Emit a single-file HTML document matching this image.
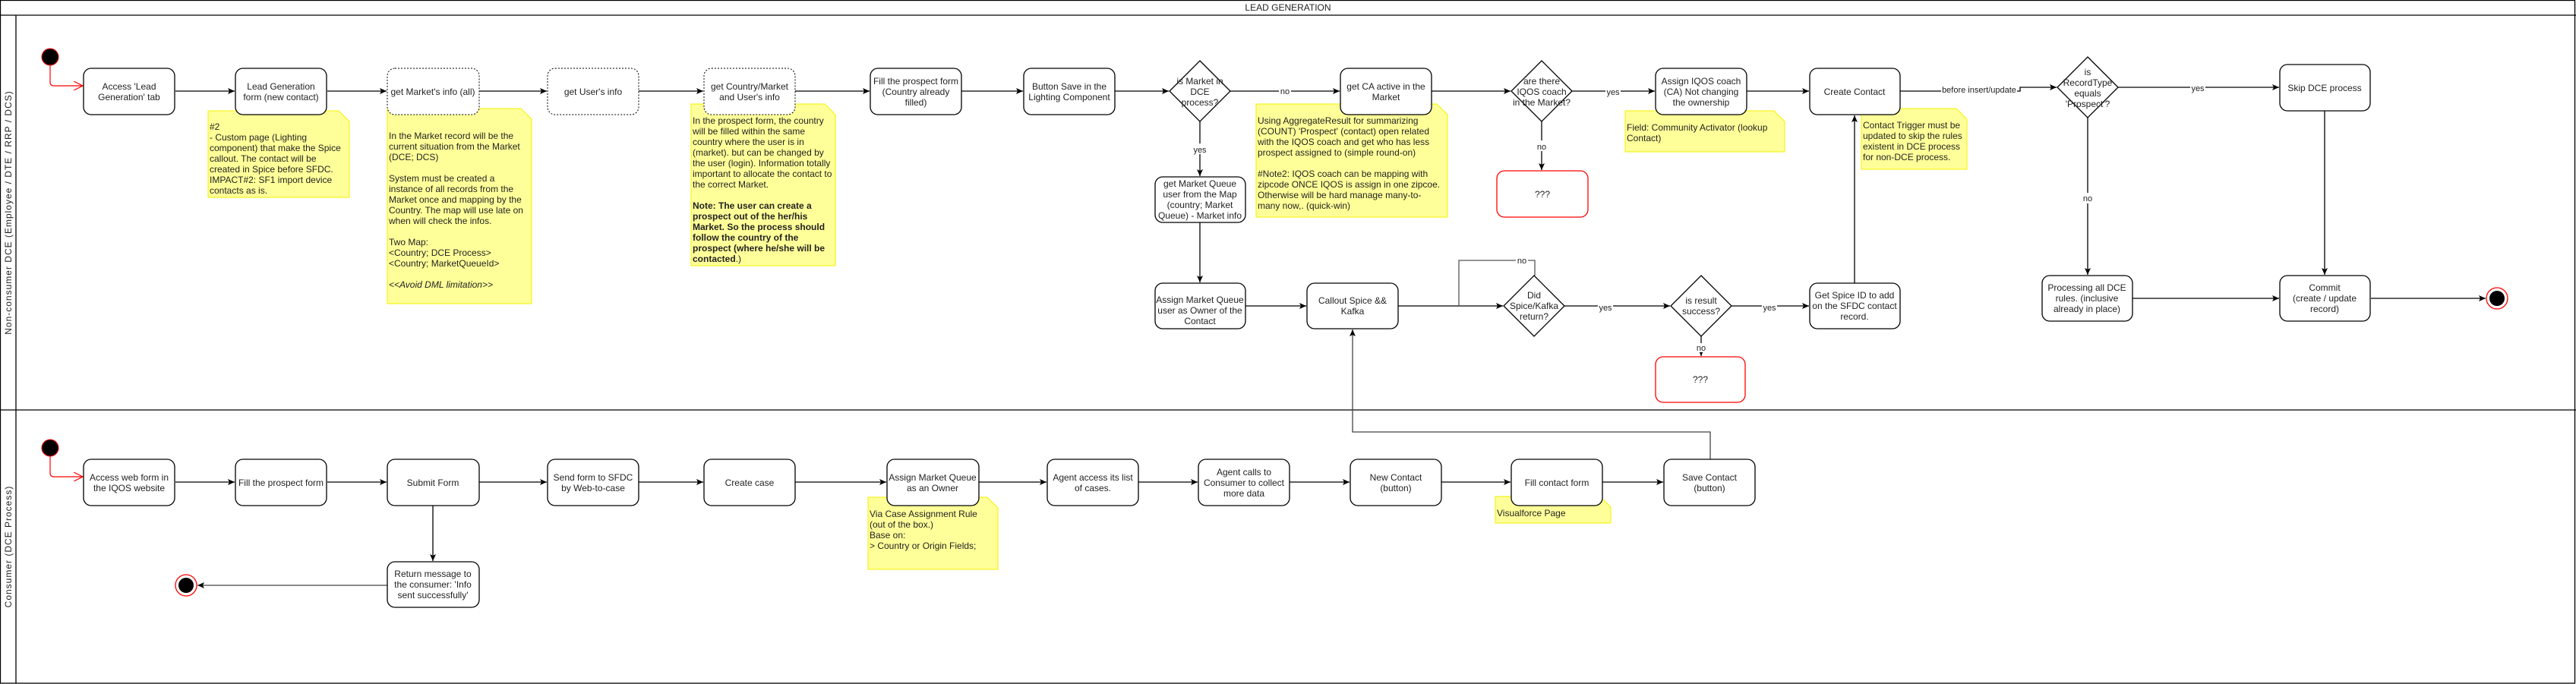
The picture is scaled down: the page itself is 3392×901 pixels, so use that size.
<!DOCTYPE html>
<html><head><meta charset="utf-8"><style>
html,body{margin:0;padding:0;background:#fff;}
svg{display:block;font-family:"Liberation Sans",Arial,sans-serif;}
.b{fill:#fff;stroke:#000;stroke-width:1.3;}
.d{fill:#fff;stroke:#000;stroke-width:1;stroke-dasharray:2,2;}
.r{fill:#fff;stroke:#f00;stroke-width:1.3;}
.n{fill:#ffff99;stroke:#f2f200;stroke-width:1;}
.t{font-size:12px;fill:#222;text-anchor:middle;}
.nt{font-size:12px;fill:#222;}
.l{stroke:#000;stroke-width:1.3;fill:none;marker-end:url(#a);}
.lb{font-size:11px;fill:#222;text-anchor:middle;}
</style></head><body>
<svg width="3392" height="901" viewBox="0 0 3392 901" xmlns="http://www.w3.org/2000/svg">
<defs>
<marker id="a" markerWidth="10" markerHeight="10" refX="9" refY="5" orient="auto" markerUnits="userSpaceOnUse"><path d="M0,1 L9,5 L0,9 L2,5 Z" fill="#000"/></marker>
<marker id="ra" markerWidth="14" markerHeight="12" refX="12" refY="6" orient="auto" markerUnits="userSpaceOnUse"><path d="M0,0 L12,6 L0,12" fill="none" stroke="#f00" stroke-width="1.2"/></marker>
</defs>
<!-- frame -->
<rect x="0.5" y="0.5" width="3390" height="899.5" fill="none" stroke="#000" stroke-width="1.3"/>
<line x1="0" y1="20" x2="3392" y2="20" stroke="#000" stroke-width="1.3"/>
<text x="1696" y="14" class="t" style="font-size:12px">LEAD GENERATION</text>
<line x1="0" y1="540" x2="3392" y2="540" stroke="#000" stroke-width="1.3"/>
<line x1="21" y1="20" x2="21" y2="900" stroke="#000" stroke-width="1.3"/>
<text transform="translate(15,280) rotate(-90)" class="t" style="font-size:12px;letter-spacing:1px">Non-consumer DCE (Employee / DTE / RRP / DCS)</text>
<text transform="translate(15,720) rotate(-90)" class="t" style="font-size:12px;letter-spacing:1px">Consumer (DCE Process)</text>

<!-- notes -->
<g>
<path class="n" d="M274,146 H446 L460,160 V260 H274 Z"/>
<text class="nt" x="276"><tspan x="276" y="171">#2</tspan><tspan x="276" dy="14">- Custom page (Lighting</tspan><tspan x="276" dy="14">component) that make the Spice</tspan><tspan x="276" dy="14">callout. The contact will be</tspan><tspan x="276" dy="14">created in Spice before SFDC.</tspan><tspan x="276" dy="14">IMPACT#2: SF1 import device</tspan><tspan x="276" dy="14">contacts as is.</tspan></text>

<path class="n" d="M510,143 H686 L700,157 V400 H510 Z"/>
<text class="nt"><tspan x="512" y="183">In the Market record will be the</tspan><tspan x="512" dy="14">current situation from the Market</tspan><tspan x="512" dy="14">(DCE; DCS)</tspan><tspan x="512" dy="28">System must be created a</tspan><tspan x="512" dy="14">instance of all records from the</tspan><tspan x="512" dy="14">Market once and mapping by the</tspan><tspan x="512" dy="14">Country. The map will use late on</tspan><tspan x="512" dy="14">when will check the infos.</tspan><tspan x="512" dy="28">Two Map:</tspan><tspan x="512" dy="14">&lt;Country; DCE Process&gt;</tspan><tspan x="512" dy="14">&lt;Country; MarketQueueId&gt;</tspan><tspan x="512" dy="28" font-style="italic">&lt;&lt;Avoid DML limitation&gt;&gt;</tspan></text>

<path class="n" d="M910,137 H1086 L1100,151 V350 H910 Z"/>
<text class="nt"><tspan x="912" y="163">In the prospect form, the country</tspan><tspan x="912" dy="14">will be filled within the same</tspan><tspan x="912" dy="14">country where the user is in</tspan><tspan x="912" dy="14">(market). but can be changed by</tspan><tspan x="912" dy="14">the user (login). Information totally</tspan><tspan x="912" dy="14">important to allocate the contact to</tspan><tspan x="912" dy="14">the correct Market.</tspan><tspan x="912" dy="28" font-weight="bold">Note: The user can create a</tspan><tspan x="912" dy="14" font-weight="bold">prospect out of the her/his</tspan><tspan x="912" dy="14" font-weight="bold">Market. So the process should</tspan><tspan x="912" dy="14" font-weight="bold">follow the country of the</tspan><tspan x="912" dy="14" font-weight="bold">prospect (where he/she will be</tspan><tspan x="912" dy="14"><tspan font-weight="bold">contacted</tspan>.)</tspan></text>

<path class="n" d="M1654,137 H1892 L1906,151 V286 H1654 Z"/>
<text class="nt"><tspan x="1656" y="163">Using AggregateResult for summarizing</tspan><tspan x="1656" dy="14">(COUNT) 'Prospect' (contact) open related</tspan><tspan x="1656" dy="14">with the IQOS coach and get who has less</tspan><tspan x="1656" dy="14">prospect assigned to (simple round-on)</tspan><tspan x="1656" dy="28">#Note2: IQOS coach can be mapping with</tspan><tspan x="1656" dy="14">zipcode ONCE IQOS is assign in one zipcoe.</tspan><tspan x="1656" dy="14">Otherwise will be hard manage many-to-</tspan><tspan x="1656" dy="14">many now,. (quick-win)</tspan></text>

<path class="n" d="M2140,146 H2336 L2350,160 V200 H2140 Z"/>
<text class="nt"><tspan x="2142" y="172">Field: Community Activator (lookup</tspan><tspan x="2142" dy="14">Contact)</tspan></text>

<path class="n" d="M2451,143 H2576 L2590,157 V223 H2451 Z"/>
<text class="nt"><tspan x="2453" y="169">Contact Trigger must be</tspan><tspan x="2453" dy="14">updated to skip the rules</tspan><tspan x="2453" dy="14">existent in DCE process</tspan><tspan x="2453" dy="14">for non-DCE process.</tspan></text>

<path class="n" d="M1143,655 H1300 L1314,669 V750 H1143 Z"/>
<text class="nt"><tspan x="1145" y="681">Via Case Assignment Rule</tspan><tspan x="1145" dy="14">(out of the box.)</tspan><tspan x="1145" dy="14">Base on:</tspan><tspan x="1145" dy="14">&gt; Country or Origin Fields;</tspan></text>

<path class="n" d="M1969,654 H2107 L2121,668 V689 H1969 Z"/>
<text class="nt"><tspan x="1971" y="680">Visualforce Page</tspan></text>
</g>

<!-- edges lane 1 -->
<path d="M66,86 V108 Q66,113 71,113 H109" fill="none" stroke="#f00" stroke-width="1.2" marker-end="url(#ra)"/>
<path class="l" d="M231,120 H309"/>
<path class="l" d="M431,120 H509"/>
<path class="l" d="M631,120 H720"/>
<path class="l" d="M841,120 H926"/>
<path class="l" d="M1047,120 H1145"/>
<path class="l" d="M1266,120 H1347"/>
<path class="l" d="M1468,120 H1539"/>
<path class="l" d="M1620,120 H1764"/>
<path class="l" d="M1885,120 H1989"/>
<path class="l" d="M2070,120 H2179"/>
<path class="l" d="M2300,120 H2382"/>
<path class="l" d="M2502,120 H2660 V115 H2708"/>
<path class="l" d="M2789,115 H3001"/>
<path class="l" d="M2749,155 V362"/>
<path class="l" d="M3061,146 V362"/>
<path class="l" d="M2808,393 H3001"/>
<path class="l" d="M3122,393 H3273"/>
<path class="l" d="M1580,160 V232"/>
<path class="l" d="M1580,293 V372"/>
<path class="l" d="M1640,403 H1720"/>
<path class="l" d="M1841,403 H1979"/>
<path d="M2021,363 V343 H1921 V403" fill="none" stroke="#555" stroke-width="1.3"/>
<path class="l" d="M2060,403 H2199"/>
<path class="l" d="M2280,403 H2382"/>
<path class="l" d="M2240,443 V469"/>
<path class="l" d="M2030,160 V224"/>
<path class="l" d="M2442,373 V152"/>
<path class="l" d="M2252,605 V569 H1781 V434" style="stroke:#444"/>
<!-- labels -->
<rect x="1684" y="112" width="16" height="14" fill="#fff"/><text x="1692" y="124" class="lb">no</text>
<rect x="1570" y="189" width="20" height="14" fill="#fff"/><text x="1580" y="201" class="lb">yes</text>
<rect x="2022" y="185" width="16" height="14" fill="#fff"/><text x="2030" y="197" class="lb">no</text>
<rect x="2114" y="113" width="20" height="14" fill="#fff"/><text x="2124" y="125" class="lb">yes</text>
<rect x="2556" y="111" width="100" height="14" fill="#fff"/><text x="2606" y="122" class="lb">before insert/update</text>
<rect x="2884" y="108" width="20" height="14" fill="#fff"/><text x="2894" y="120" class="lb">yes</text>
<rect x="2741" y="254" width="16" height="14" fill="#fff"/><text x="2749" y="265" class="lb">no</text>
<rect x="1996" y="336" width="16" height="14" fill="#fff"/><text x="2004" y="347" class="lb">no</text>
<rect x="2104" y="397" width="20" height="14" fill="#fff"/><text x="2114" y="409" class="lb">yes</text>
<rect x="2320" y="397" width="20" height="14" fill="#fff"/><text x="2330" y="409" class="lb">yes</text>
<rect x="2232" y="452" width="16" height="12" fill="#fff"/><text x="2240" y="462" class="lb">no</text>

<!-- nodes lane 1 -->
<circle cx="66" cy="75" r="11" fill="#000" stroke="#f00" stroke-width="1"/>
<rect class="b" x="110" y="90" width="120" height="61" rx="10"/>
<text class="t"><tspan x="170" y="118">Access 'Lead</tspan><tspan x="170" dy="14">Generation' tab</tspan></text>
<rect class="b" x="310" y="90" width="120" height="61" rx="10"/>
<text class="t"><tspan x="370" y="118">Lead Generation</tspan><tspan x="370" dy="14">form (new contact)</tspan></text>
<rect class="d" x="510" y="90" width="121" height="61" rx="10"/>
<text class="t"><tspan x="570" y="125">get Market's info (all)</tspan></text>
<rect class="d" x="721" y="90" width="120" height="61" rx="10"/>
<text class="t"><tspan x="781" y="125">get User's info</tspan></text>
<rect class="d" x="927" y="90" width="120" height="61" rx="10"/>
<text class="t"><tspan x="987" y="118">get Country/Market</tspan><tspan x="987" dy="14">and User's info</tspan></text>
<rect class="b" x="1146" y="90" width="120" height="61" rx="10"/>
<text class="t"><tspan x="1206" y="111">Fill the prospect form</tspan><tspan x="1206" dy="14">(Country already</tspan><tspan x="1206" dy="14">filled)</tspan></text>
<rect class="b" x="1348" y="90" width="120" height="61" rx="10"/>
<text class="t"><tspan x="1408" y="118">Button Save in the</tspan><tspan x="1408" dy="14">Lighting Component</tspan></text>
<path class="b" d="M1580,80 L1620,120 L1580,160 L1540,120 Z"/>
<text class="t"><tspan x="1580" y="111">is Market in</tspan><tspan x="1580" dy="14">DCE</tspan><tspan x="1580" dy="14">process?</tspan></text>
<rect class="b" x="1765" y="90" width="120" height="61" rx="10"/>
<text class="t"><tspan x="1825" y="118">get CA active in the</tspan><tspan x="1825" dy="14">Market</tspan></text>
<path class="b" d="M2030,80 L2070,120 L2030,160 L1990,120 Z"/>
<text class="t"><tspan x="2030" y="111">are there</tspan><tspan x="2030" dy="14">IQOS coach</tspan><tspan x="2030" dy="14">in the Market?</tspan></text>
<rect class="r" x="1971" y="225" width="120" height="61" rx="10"/>
<text class="t"><tspan x="2031" y="260">???</tspan></text>
<rect class="b" x="2180" y="90" width="120" height="61" rx="10"/>
<text class="t"><tspan x="2240" y="111">Assign IQOS coach</tspan><tspan x="2240" dy="14">(CA) Not changing</tspan><tspan x="2240" dy="14">the ownership</tspan></text>
<rect class="b" x="2383" y="90" width="119" height="61" rx="10"/>
<text class="t"><tspan x="2442" y="125">Create Contact</tspan></text>
<path class="b" d="M2749,75 L2789,115 L2749,155 L2709,115 Z"/>
<text class="t"><tspan x="2749" y="99">is</tspan><tspan x="2749" dy="14">RecordType</tspan><tspan x="2749" dy="14">equals</tspan><tspan x="2749" dy="14">'Prospect'?</tspan></text>
<rect class="b" x="3002" y="85" width="119" height="61" rx="10"/>
<text class="t"><tspan x="3061" y="120">Skip DCE process</tspan></text>
<rect class="b" x="1521" y="233" width="119" height="60" rx="10"/>
<text class="t"><tspan x="1580" y="246">get Market Queue</tspan><tspan x="1580" dy="14">user from the Map</tspan><tspan x="1580" dy="14">(country; Market</tspan><tspan x="1580" dy="14">Queue) - Market info</tspan></text>
<rect class="b" x="1521" y="373" width="119" height="60" rx="10"/>
<text class="t"><tspan x="1580" y="399">Assign Market Queue</tspan><tspan x="1580" dy="14">user as Owner of the</tspan><tspan x="1580" dy="14">Contact</tspan></text>
<rect class="b" x="1721" y="373" width="120" height="60" rx="10"/>
<text class="t"><tspan x="1781" y="400">Callout Spice &amp;&amp;</tspan><tspan x="1781" dy="14">Kafka</tspan></text>
<path class="b" d="M2020,363 L2060,403 L2020,443 L1980,403 Z"/>
<text class="t"><tspan x="2020" y="393">Did</tspan><tspan x="2020" dy="14">Spice/Kafka</tspan><tspan x="2020" dy="14">return?</tspan></text>
<path class="b" d="M2240,363 L2280,403 L2240,443 L2200,403 Z"/>
<text class="t"><tspan x="2240" y="400">is result</tspan><tspan x="2240" dy="14">success?</tspan></text>
<rect class="r" x="2180" y="470" width="118" height="60" rx="10"/>
<text class="t"><tspan x="2239" y="504">???</tspan></text>
<rect class="b" x="2383" y="373" width="119" height="60" rx="10"/>
<text class="t"><tspan x="2442" y="393">Get Spice ID to add</tspan><tspan x="2442" dy="14">on the SFDC contact</tspan><tspan x="2442" dy="14">record.</tspan></text>
<rect class="b" x="2689" y="363" width="119" height="60" rx="10"/>
<text class="t"><tspan x="2748" y="383">Processing all DCE</tspan><tspan x="2748" dy="14">rules. (inclusive</tspan><tspan x="2748" dy="14">already in place)</tspan></text>
<rect class="b" x="3002" y="363" width="119" height="60" rx="10"/>
<text class="t"><tspan x="3061" y="383">Commit</tspan><tspan x="3061" dy="14">(create / update</tspan><tspan x="3061" dy="14">record)</tspan></text>
<circle cx="3288" cy="393" r="14" fill="#fff" stroke="#f00" stroke-width="1.3"/>
<circle cx="3288" cy="393" r="10" fill="#000"/>

<!-- lane 2 -->
<path d="M66,601 V623 Q66,628 71,628 H109" fill="none" stroke="#f00" stroke-width="1.2" marker-end="url(#ra)"/>
<path class="l" d="M231,635 H309"/>
<path class="l" d="M431,635 H509"/>
<path class="l" d="M631,635 H720"/>
<path class="l" d="M841,635 H926"/>
<path class="l" d="M1047,635 H1167"/>
<path class="l" d="M1289,635 H1378"/>
<path class="l" d="M1499,635 H1577"/>
<path class="l" d="M1698,635 H1777"/>
<path class="l" d="M1898,635 H1989"/>
<path class="l" d="M2110,635 H2190"/>
<path class="l" d="M570,666 V739"/>
<path class="l" d="M510,771 H260" style="stroke:#444"/>
<circle cx="66" cy="590" r="11" fill="#000" stroke="#f00" stroke-width="1"/>
<rect class="b" x="110" y="605" width="120" height="61" rx="10"/>
<text class="t"><tspan x="170" y="633">Access web form in</tspan><tspan x="170" dy="14">the IQOS website</tspan></text>
<rect class="b" x="310" y="605" width="120" height="61" rx="10"/>
<text class="t"><tspan x="370" y="640">Fill the prospect form</tspan></text>
<rect class="b" x="510" y="605" width="121" height="61" rx="10"/>
<text class="t"><tspan x="570" y="640">Submit Form</tspan></text>
<rect class="b" x="721" y="605" width="120" height="61" rx="10"/>
<text class="t"><tspan x="781" y="633">Send form to SFDC</tspan><tspan x="781" dy="14">by Web-to-case</tspan></text>
<rect class="b" x="927" y="605" width="120" height="61" rx="10"/>
<text class="t"><tspan x="987" y="640">Create case</tspan></text>
<rect class="b" x="1168" y="605" width="121" height="61" rx="10"/>
<text class="t"><tspan x="1228" y="633">Assign Market Queue</tspan><tspan x="1228" dy="14">as an Owner</tspan></text>
<rect class="b" x="1379" y="605" width="120" height="61" rx="10"/>
<text class="t"><tspan x="1439" y="633">Agent access its list</tspan><tspan x="1439" dy="14">of cases.</tspan></text>
<rect class="b" x="1578" y="605" width="120" height="61" rx="10"/>
<text class="t"><tspan x="1638" y="626">Agent calls to</tspan><tspan x="1638" dy="14">Consumer to collect</tspan><tspan x="1638" dy="14">more data</tspan></text>
<rect class="b" x="1778" y="605" width="120" height="61" rx="10"/>
<text class="t"><tspan x="1838" y="633">New Contact</tspan><tspan x="1838" dy="14">(button)</tspan></text>
<rect class="b" x="1990" y="605" width="120" height="61" rx="10"/>
<text class="t"><tspan x="2050" y="640">Fill contact form</tspan></text>
<rect class="b" x="2191" y="605" width="120" height="61" rx="10"/>
<text class="t"><tspan x="2251" y="633">Save Contact</tspan><tspan x="2251" dy="14">(button)</tspan></text>
<rect class="b" x="510" y="740" width="121" height="60" rx="10"/>
<text class="t"><tspan x="570" y="760">Return message to</tspan><tspan x="570" dy="14">the consumer: 'Info</tspan><tspan x="570" dy="14">sent successfully'</tspan></text>
<circle cx="245" cy="771" r="14" fill="#fff" stroke="#f00" stroke-width="1.3"/>
<circle cx="245" cy="771" r="10" fill="#000"/>
</svg>
</body></html>
